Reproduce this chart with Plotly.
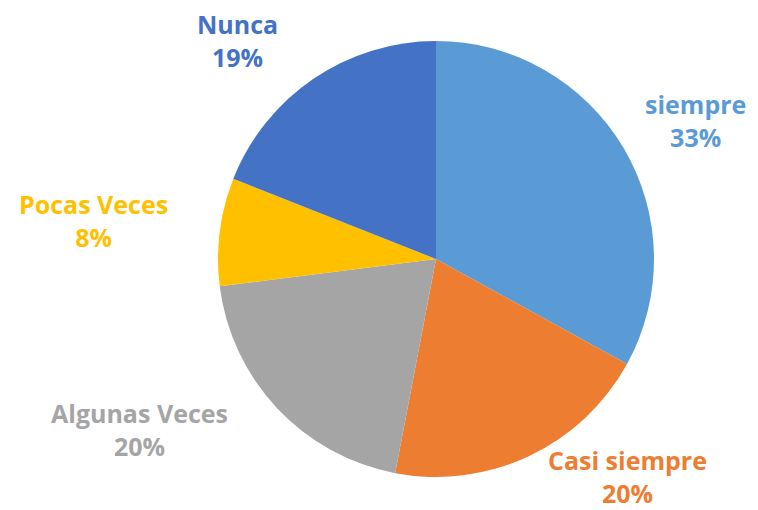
import plotly.graph_objects as go

labels = ["siempre", "Casi siempre", "Algunas Veces", "Pocas Veces", "Nunca"]
values = [33, 20, 20, 8, 19]
pct_text = ["33%", "20%", "20%", "8%", "19%"]
colors = ["#5B9BD5", "#ED7D31", "#A5A5A5", "#FFC000", "#4472C4"]

W, H = 758, 510
cx, cy, r = 428, 251, 218

fig = go.Figure(go.Pie(
    labels=labels,
    values=values,
    sort=False,
    direction="clockwise",
    rotation=0,
    marker=dict(colors=colors, line=dict(width=0)),
    textinfo="none",
    hoverinfo="label+percent",
    showlegend=False,
    domain=dict(x=[(cx - r) / W, (cx + r) / W], y=[(H - cy - r) / H, (H - cy + r) / H]),
))

# label positions (pixels, top-left origin)
label_pos = [(687, 112), (619, 468), (131, 421), (85, 212), (229, 33)]
for lab, pt, col, (px, py) in zip(labels, pct_text, colors, label_pos):
    fig.add_annotation(
        x=px / W, y=1 - py / H, xref="paper", yref="paper",
        text=f"<b>{lab}<br>{pt}</b>", showarrow=False,
        font=dict(family="Open Sans", size=25, color=col),
        align="center", xanchor="center", yanchor="middle",
        borderpad=0,
    )

fig.update_layout(
    width=W, height=H,
    margin=dict(l=0, r=0, t=0, b=0),
    paper_bgcolor="white", plot_bgcolor="white",
)

fig.write_html("out.html")
